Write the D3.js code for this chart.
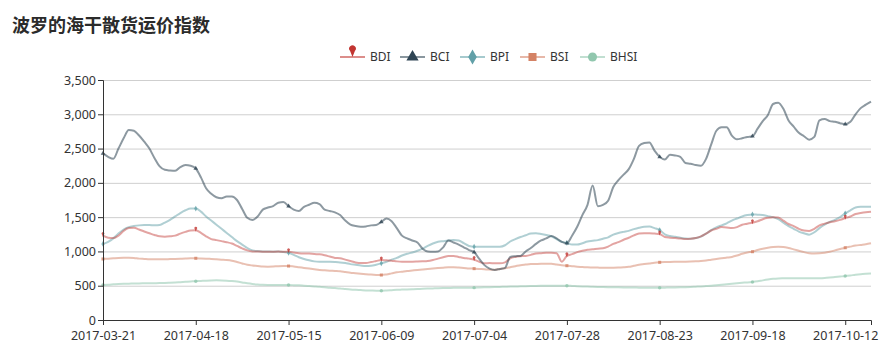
<!DOCTYPE html>
<html>
<head>
<meta charset="utf-8">
<script src="https://cdn.jsdelivr.net/npm/d3@7"></script>
<style>
  body { margin: 0; background: #fff; }
  svg { display: block; }
</style>
</head>
<body>
<svg id="chart" width="892" height="354"></svg>
<script>
// category axis: one point per trading day, labels every 18 points
const tickLabels = ["2017-03-21", "2017-04-18", "2017-05-15", "2017-06-09", "2017-07-04",
                    "2017-07-28", "2017-08-23", "2017-09-18", "2017-10-12"];
const labelEvery = 18;
const pointCount = 150;
const yTicks = [0, 500, 1000, 1500, 2000, 2500, 3000, 3500];
const seriesNames = ["BDI", "BCI", "BPI", "BSI", "BHSI"];
const seriesColors = ["#c23531", "#2f4554", "#61a0a8", "#d48265", "#91c7ae"];

const bdi = [1230,1200,1195,1230,1300,1340,1345,1320,1290,1265,1240,1220,1215,1220,1230,1260,1285,1305,1310,1270,
  1220,1180,1165,1150,1135,1115,1080,1045,1015,1000,998,996,996,996,998,996,996,985,975,970,
  968,962,958,945,925,905,900,880,860,840,830,832,845,860,875,870,865,855,850,850,
  850,852,855,860,875,895,915,935,935,920,905,895,880,850,826,830,826,826,840,900,
  920,930,935,950,970,975,980,982,975,850,935,960,990,1010,1025,1031,1040,1045,1070,1110,
  1135,1170,1200,1235,1260,1265,1265,1260,1254,1210,1200,1195,1190,1182,1185,1195,1220,1260,1305,1330,
  1355,1350,1340,1355,1390,1405,1419,1440,1470,1490,1500,1495,1450,1400,1370,1330,1305,1298,1330,1380,
  1405,1425,1440,1460,1485,1510,1545,1560,1572,1580];

const bci = [2430,2380,2350,2500,2650,2770,2760,2690,2600,2500,2360,2240,2190,2180,2175,2230,2260,2250,2210,2080,
  1920,1840,1790,1775,1800,1800,1750,1620,1490,1460,1510,1610,1640,1660,1710,1720,1660,1610,1590,1650,
  1680,1710,1690,1610,1590,1570,1530,1450,1390,1370,1360,1365,1380,1385,1430,1480,1440,1340,1230,1190,
  1160,1130,1040,1000,995,1000,1060,1160,1130,1100,1060,1020,990,890,800,750,730,745,760,920,
  930,935,1000,1050,1110,1160,1190,1225,1190,1140,1120,1230,1360,1530,1680,1960,1660,1680,1740,1940,
  2040,2120,2200,2350,2540,2580,2590,2470,2380,2340,2410,2400,2380,2290,2280,2260,2250,2350,2560,2760,
  2810,2810,2690,2635,2650,2670,2680,2790,2900,2990,3150,3170,3080,2910,2820,2730,2680,2630,2670,2910,
  2930,2900,2890,2870,2855,2890,3000,3090,3140,3185];

const bpi = [1110,1140,1190,1260,1320,1355,1370,1380,1385,1385,1380,1385,1420,1460,1510,1560,1600,1625,1625,1580,
  1510,1450,1390,1330,1270,1210,1150,1100,1050,1015,1005,1000,998,996,1000,990,980,950,915,890,
  870,855,850,850,848,845,840,830,815,805,795,787,790,805,826,850,880,905,940,965,
  985,1010,1040,1080,1115,1140,1150,1160,1165,1160,1120,1080,1069,1069,1069,1069,1069,1069,1090,1145,
  1180,1210,1235,1260,1265,1255,1240,1220,1180,1140,1125,1100,1100,1120,1145,1155,1165,1185,1205,1245,
  1268,1285,1300,1325,1345,1360,1362,1340,1312,1250,1225,1215,1200,1190,1185,1195,1215,1260,1310,1350,
  1380,1410,1450,1480,1510,1530,1540,1535,1530,1515,1500,1470,1420,1370,1330,1290,1265,1245,1280,1340,
  1390,1430,1460,1500,1556,1600,1640,1650,1652,1653];

const bsi = [890,895,900,905,908,909,905,895,890,885,885,885,885,888,890,893,897,900,900,898,
  895,890,885,880,875,865,845,825,805,795,788,780,778,780,785,787,787,780,770,760,
  750,740,730,725,720,715,710,700,690,683,675,668,662,658,656,665,680,695,705,715,
  722,729,735,742,750,757,763,768,768,765,760,752,749,745,740,735,732,745,755,770,
  785,800,808,815,817,820,822,820,810,800,792,785,778,772,768,765,764,763,763,763,
  764,768,775,790,805,815,825,835,841,845,847,848,849,850,852,855,860,868,880,890,
  900,910,920,940,965,985,996,1020,1040,1055,1065,1069,1065,1050,1030,1010,990,975,970,972,
  980,995,1015,1035,1054,1070,1085,1095,1105,1118];

const bhsi = [512,515,520,525,528,530,532,534,535,536,537,538,540,543,547,552,557,562,566,570,
  574,577,578,577,574,568,560,548,535,525,518,514,512,511,510,510,510,508,505,500,
  495,490,485,478,470,465,460,452,445,440,436,432,430,428,426,430,435,440,443,446,
  449,452,455,458,461,463,465,467,469,470,471,471,472,474,476,478,480,482,485,487,
  489,491,493,495,497,498,499,500,500,500,500,497,493,490,487,485,483,481,479,477,
  476,475,474,473,472,471,471,471,471,472,473,475,477,479,482,486,490,495,500,507,
  515,522,530,537,543,548,555,565,578,590,600,606,608,609,609,609,608,608,608,610,
  614,620,627,634,641,650,660,668,674,679];

const seriesValues = [bdi, bci, bpi, bsi, bhsi];

const svg = d3.select("#chart");
const font = "'Noto Sans', 'DejaVu Sans', sans-serif";

const marginLeft = 103, marginRight = 21, marginTop = 80, marginBottom = 34;
const width = 892, height = 354;

const x = d3.scaleLinear()
    .domain([0, pointCount - 1])
    .range([marginLeft, width - marginRight]);

const y = d3.scaleLinear()
    .domain([0, 3500])
    .range([height - marginBottom, marginTop]);

// title
svg.append("text")
    .attr("x", 12)
    .attr("y", 32)
    .attr("font-family", "'Noto Sans CJK SC', sans-serif")
    .attr("font-weight", "bold")
    .attr("font-size", 18)
    .attr("fill", "#2b2b2b")
    .text("波罗的海干散货运价指数");

// horizontal grid lines
svg.append("g")
    .attr("class", "grid")
    .attr("transform", `translate(${marginLeft}, 0)`)
    .call(d3.axisLeft(y).tickValues(yTicks).tickSize(-(width - marginLeft - marginRight)).tickFormat(""))
    .call(g => g.select(".domain").remove())
    .call(g => g.selectAll("line").attr("stroke", "#cfcfcf"));

// pin shape for BDI, tip at origin
function pinPath(s) {
    const r = s * 0.32;
    const cy = -s * 0.75;
    return `M0,0 L${-r * 0.75},${cy + r * 0.5} A${r},${r} 0 1 1 ${r * 0.75},${cy + r * 0.5} Z`;
}
const symbolTypes = [null, d3.symbolTriangle, d3.symbolDiamond, d3.symbolSquare, d3.symbolCircle];

function drawSymbol(g, i, size) {
    if (i === 0) {
        return g.append("path").attr("d", pinPath(size * 1.3));
    }
    return g.append("path").attr("d", d3.symbol().type(symbolTypes[i]).size(size * size * 0.8)());
}

// lines, BCI drawn last so it sits on top
const line = d3.line()
    .x((d, i) => x(i))
    .y(d => y(d))
    .curve(d3.curveMonotoneX);

const lineOpacity = [0.45, 0.55, 0.5, 0.5, 0.55];
const drawOrder = [4, 3, 2, 0, 1];
drawOrder.forEach(s => {
    svg.append("path")
        .datum(seriesValues[s])
        .attr("fill", "none")
        .attr("stroke", seriesColors[s])
        .attr("stroke-opacity", lineOpacity[s])
        .attr("stroke-width", 2)
        .attr("d", line);
});

// small markers at the labelled points
const markIdx = d3.range(0, pointCount, labelEvery);
drawOrder.forEach(s => {
    markIdx.forEach(i => {
        const g = svg.append("g")
            .attr("transform", `translate(${x(i)}, ${y(seriesValues[s][i]) + (s === 0 ? 1.5 : 0)})`);
        drawSymbol(g, s, 3.4)
            .attr("fill", seriesColors[s])
            .attr("fill-opacity", 0.8);
    });
});

// y axis
svg.append("g")
    .attr("transform", `translate(${marginLeft}, 0)`)
    .call(d3.axisLeft(y).tickValues(yTicks).tickFormat(d3.format(",")).tickSizeOuter(0).tickSize(5))
    .call(g => g.select(".domain").attr("stroke", "#333"))
    .call(g => g.selectAll("line").attr("stroke", "#333"))
    .call(g => g.selectAll("text").attr("fill", "#333").attr("font-size", 12.5).attr("font-family", font).attr("x", -7));

// x axis
svg.append("g")
    .attr("transform", `translate(0, ${height - marginBottom})`)
    .call(d3.axisBottom(x).tickValues(markIdx).tickFormat((d, i) => tickLabels[i]).tickSizeOuter(0).tickSize(5))
    .call(g => g.select(".domain").attr("stroke", "#333"))
    .call(g => g.selectAll("line").attr("stroke", "#333"))
    .call(g => g.selectAll("text").attr("fill", "#333").attr("font-size", 12.5).attr("font-family", font).attr("y", 11));

// legend
const legend = svg.append("g").attr("transform", "translate(340, 57)");
seriesNames.forEach((name, i) => {
    const item = legend.append("g").attr("transform", `translate(${i * 60}, 0)`);
    item.append("line")
        .attr("x1", 0).attr("x2", 25)
        .attr("stroke", seriesColors[i])
        .attr("stroke-opacity", 0.75)
        .attr("stroke-width", 1.5);
    const sg = item.append("g").attr("transform", "translate(12.5, 0)");
    drawSymbol(sg, i, i === 0 ? 8 : 9).attr("fill", seriesColors[i]);
    item.append("text")
        .attr("x", 30)
        .attr("dy", "0.35em")
        .attr("font-family", font)
        .attr("font-size", 12)
        .attr("fill", "#333")
        .text(name);
});
</script>
</body>
</html>
